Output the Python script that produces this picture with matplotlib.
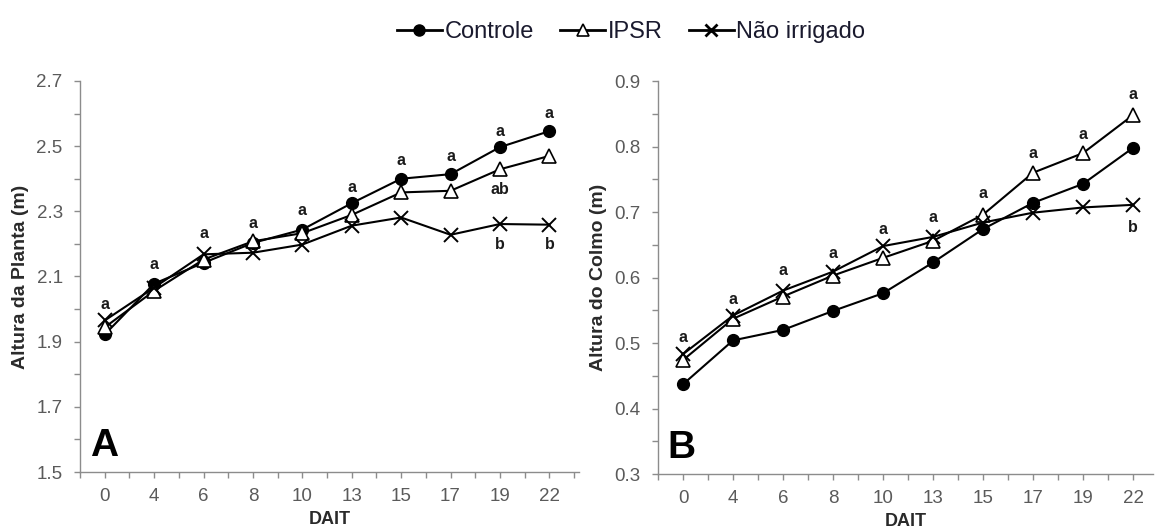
import matplotlib
matplotlib.use("Agg")
import matplotlib.pyplot as plt
from matplotlib.ticker import FixedLocator, FormatStrFormatter
from matplotlib.lines import Line2D
import numpy as np

plt.rcParams['font.family'] = ['Liberation Sans', 'DejaVu Sans']

days = ["0", "4", "6", "8", "10", "13", "15", "17", "19", "22"]

# Plant height (m)
planta_controle = [1.922, 2.078, 2.142, 2.203, 2.244, 2.325, 2.400, 2.414, 2.497, 2.546]
planta_ipsr = [1.944, 2.056, 2.152, 2.208, 2.233, 2.289, 2.358, 2.363, 2.429, 2.470]
planta_nao_irrigado = [1.965, 2.066, 2.168, 2.173, 2.198, 2.256, 2.281, 2.228, 2.261, 2.259]

# Stalk height (m)
colmo_controle = [0.437, 0.504, 0.520, 0.549, 0.576, 0.623, 0.674, 0.714, 0.743, 0.798]
colmo_ipsr = [0.474, 0.537, 0.571, 0.603, 0.630, 0.656, 0.696, 0.760, 0.790, 0.848]
colmo_nao_irrigado = [0.483, 0.542, 0.580, 0.609, 0.648, 0.662, 0.684, 0.699, 0.707, 0.711]

# Significance letters: (day index, y, text)
letras_planta = [(0, 2.015, "a"), (1, 2.137, "a"), (2, 2.233, "a"), (3, 2.262, "a"),
                 (4, 2.304, "a"), (5, 2.373, "a"), (6, 2.455, "a"), (7, 2.467, "a"),
                 (8, 2.546, "a"), (9, 2.599, "a"), (8, 2.368, "ab"),
                 (8, 2.198, "b"), (9, 2.198, "b")]
letras_colmo = [(0, 0.509, "a"), (1, 0.567, "a"), (2, 0.610, "a"), (3, 0.637, "a"),
                (4, 0.674, "a"), (5, 0.691, "a"), (6, 0.728, "a"), (7, 0.790, "a"),
                (8, 0.819, "a"), (9, 0.880, "a"), (9, 0.676, "b")]

AXIS_GREY = "#8c8c8c"
TICK_GREY = "#5a5a5a"

fig = plt.figure(figsize=(11.55, 5.31), dpi=100)
axA = fig.add_axes([0.0693, 0.1111, 0.4320, 0.7364])
axB = fig.add_axes([0.5697, 0.1073, 0.4286, 0.7401])

x = list(range(len(days)))


def style_axis(ax, xlim, ylim, major, minor, ylabel, letter):
    ax.set_xlim(*xlim)
    ax.set_ylim(*ylim)
    for s in ("top", "right"):
        ax.spines[s].set_visible(False)
    for s in ("left", "bottom"):
        ax.spines[s].set_color(AXIS_GREY)
        ax.spines[s].set_linewidth(1.0)
    ax.yaxis.set_major_locator(FixedLocator(np.arange(ylim[0], ylim[1] + 1e-9, major)))
    ax.yaxis.set_minor_locator(FixedLocator(np.arange(ylim[0], ylim[1] + 1e-9, minor)))
    ax.yaxis.set_major_formatter(FormatStrFormatter("%.1f"))
    ax.xaxis.set_major_locator(FixedLocator(x))
    ax.xaxis.set_minor_locator(FixedLocator([i - 0.5 for i in range(len(days) + 1)]))
    ax.set_xticklabels(days)
    ax.tick_params(axis="both", which="both", direction="out", color=AXIS_GREY,
                   labelcolor=TICK_GREY, labelsize=13.5)
    ax.tick_params(axis="both", which="both", length=4.5, width=1)
    ax.tick_params(axis="x", which="major", pad=7)
    ax.tick_params(axis="y", which="major", pad=8)
    ax.set_xlabel("DAIT", fontsize=13, fontweight="bold", color="#2a2a2a", labelpad=4)
    ax.set_ylabel(ylabel, fontsize=14, fontweight="bold", color="#2a2a2a", labelpad=5)
    ax.annotate(letter, xy=(0, 0), xycoords="axes fraction", xytext=(7, 6),
                textcoords="offset points", fontsize=28, fontweight="bold",
                color="black", ha="left", va="bottom")


def draw_series(ax, controle, ipsr, nao_irrigado):
    ax.plot(x, controle, color="black", lw=1.5, marker="o", ms=8.5, mfc="black",
            mec="black", zorder=3)
    ax.plot(x, ipsr, color="black", lw=1.5, marker="^", ms=10.5, mfc="white",
            mec="black", mew=1.2, zorder=4)
    ax.plot(x, nao_irrigado, color="black", lw=1.5, marker="x", ms=9.5, mew=1.4,
            zorder=5)


draw_series(axA, planta_controle, planta_ipsr, planta_nao_irrigado)
draw_series(axB, colmo_controle, colmo_ipsr, colmo_nao_irrigado)

style_axis(axA, (-0.5, 9.6), (1.5, 2.7), 0.2, 0.1, "Altura da Planta (m)", "A")
style_axis(axB, (-0.5, 9.4), (0.3, 0.9), 0.1, 0.05, "Altura do Colmo (m)", "B")

for ax, letras in ((axA, letras_planta), (axB, letras_colmo)):
    for i, y, t in letras:
        ax.text(i, y, t, ha="center", va="center", fontsize=11.5,
                fontweight="bold", color="#1a1a1a")

handles = [
    Line2D([], [], color="black", lw=2, marker="o", ms=8, mfc="black"),
    Line2D([], [], color="black", lw=2, marker="^", ms=9, mfc="white", mew=1.2),
    Line2D([], [], color="black", lw=2, marker="x", ms=9, mew=2),
]
fig.legend(handles, ["Controle", "IPSR", "Não irrigado"], loc="center",
           bbox_to_anchor=(0.5465, 0.94), ncol=3, frameon=False, fontsize=17,
           handlelength=1.9, handletextpad=0.12, columnspacing=1.1,
           labelcolor="#1a1a2e")

fig.savefig("out.png", dpi=100)
